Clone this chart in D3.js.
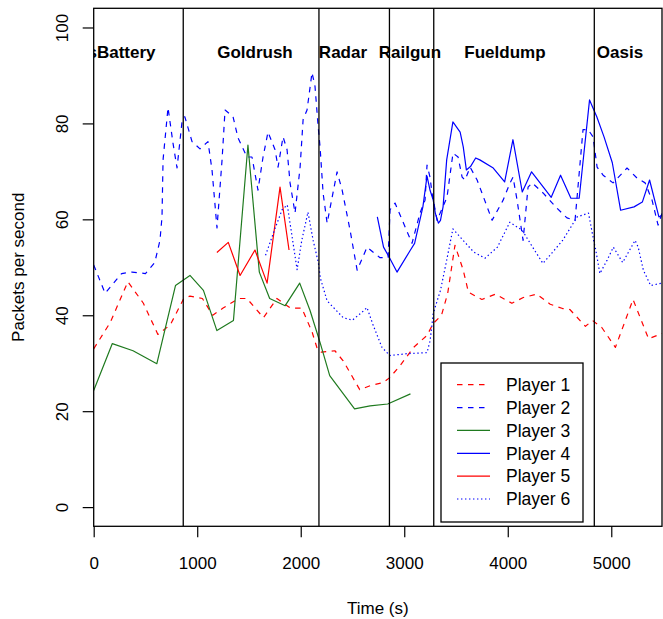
<!DOCTYPE html>
<html>
<head>
<meta charset="utf-8">
<script src="https://cdn.jsdelivr.net/npm/d3@7"></script>
<style>
  html, body { margin: 0; padding: 0; background: #fff; }
  svg { display: block; font-family: "Liberation Sans", Arial, Helvetica, sans-serif; }
</style>
</head>
<body>
<svg id="chart" width="663" height="619"></svg>
<script>
// Packets per second for each player, [time (s), packets/s]
const player1 = [[0,33],[160,38.5],[330,47],[480,42.5],[620,36],[740,38],[870,43.5],[930,44],[1050,43.5],[1150,40],[1250,41.5],[1400,43.5],[1480,43.5],[1640,39.5],[1770,43.5],[1900,41.5],[2010,41.5],[2110,36.5],[2160,33],[2200,32.3],[2330,32.6],[2410,30.5],[2570,24.5],[2670,25.3],[2800,26],[2860,27],[2960,29.5],[3090,33.3],[3220,35.8],[3280,38.3],[3360,40],[3420,44.6],[3490,54.6],[3570,49.4],[3620,44.8],[3750,43.3],[3880,44.4],[4040,42.5],[4150,43.7],[4280,44.4],[4410,42.3],[4530,41.4],[4600,41.2],[4750,37.7],[4820,38.9],[4910,37.4],[5040,33.3],[5210,43.3],[5360,35.1],[5490,36.2]];
const player2 = [[0,50.5],[110,44.6],[270,48.7],[370,49],[500,48.7],[590,51],[640,55.6],[660,60.5],[670,72.4],[718,83.3],[766,75.9],[805,70.7],[853,80.3],[880,81.4],[950,76.2],[1027,74.7],[1104,76.2],[1143,70.3],[1191,58.2],[1240,72.4],[1269,82.8],[1346,81.4],[1394,77],[1481,73],[1529,73],[1587,66.1],[1636,73],[1684,78.2],[1752,74.5],[1781,70.9],[1829,77.2],[1868,74.5],[1897,67.6],[1945,61.3],[1994,70.9],[2023,80.8],[2061,82.8],[2109,90.6],[2138,87.7],[2167,79.7],[2187,75],[2216,65.5],[2255,59.2],[2351,69.9],[2400,66.1],[2477,57.7],[2545,49.4],[2641,54.2],[2766,52],[2844,52],[2863,62],[2911,63.4],[3075,55],[3152,61.3],[3201,64],[3220,71.3],[3249,68.8],[3268,65.5],[3317,59.8],[3413,64.6],[3471,73.8],[3520,73],[3559,68.8],[3588,68.2],[3636,70.9],[3704,68.2],[3849,59.8],[3955,64],[4022,67.6],[4051,68.8],[4090,64],[4148,55.6],[4196,66.7],[4235,67.6],[4341,65.5],[4476,62.3],[4572,60.3],[4650,59.8],[4727,78.7],[4776,78.7],[4824,77.2],[4863,70.9],[4921,69.2],[5017,67.6],[5152,70.7],[5249,68.6],[5327,67.6],[5394,64],[5452,58.8],[5491,61.3]];
const player3 = [[0,24.3],[180,34.1],[380,32.6],[610,29.9],[790,46.2],[930,48.3],[1060,45.2],[1190,36.8],[1350,38.9],[1490,75.5],[1600,49],[1700,43.5],[1850,42],[1990,46.7],[2090,41],[2190,34.1],[2280,27.4],[2520,20.5],[2670,21.1],[2840,21.5],[3060,23.6]];
const player4 = [[2740,60.5],[2800,54.2],[2860,51.9],[2930,49],[3060,53.6],[3100,55],[3180,62.6],[3220,69],[3250,66],[3280,64],[3300,61.3],[3330,59.2],[3350,59.8],[3375,62.6],[3410,72.4],[3470,80.3],[3540,78.2],[3570,75.1],[3600,70.3],[3640,71],[3690,72.8],[3730,72.4],[3860,70.7],[3970,67.8],[4050,76.6],[4140,65.7],[4230,69.9],[4420,64.6],[4510,69.2],[4610,64.4],[4690,64.4],[4790,84.9],[4860,81.4],[4930,77.2],[5010,71.8],[5090,61.9],[5220,62.6],[5300,63.6],[5370,68.2],[5460,60.5],[5530,61.3]];
const player5 = [[1190,53.1],[1300,55.2],[1414,48.3],[1558,53.6],[1675,46.7],[1800,66.7],[1887,53.6]];
const player6 = [[1660,52.5],[1750,58],[1820,62],[1870,63],[1965,49.5],[2010,55.6],[2070,61.5],[2120,55.6],[2170,51],[2190,47.7],[2255,43],[2410,39.5],[2500,39],[2590,40.6],[2640,41.6],[2700,37.9],[2785,33.3],[2860,31.6],[3030,32],[3220,32.2],[3250,34.7],[3280,40.4],[3350,45.2],[3410,51.5],[3470,58],[3570,55.6],[3670,53.2],[3780,51.9],[3900,54.2],[4020,59.4],[4140,57.7],[4240,54.2],[4340,50.8],[4530,55.6],[4670,60.5],[4780,61.3],[4830,55.6],[4850,53.6],[4890,48.7],[4960,51.5],[5020,54.2],[5110,51],[5230,55.6],[5260,54.2],[5310,49.4],[5380,46.2],[5490,46.7]];

const seriesNames = ["Player 1", "Player 2", "Player 3", "Player 4", "Player 5", "Player 6"];
const seriesData = [player1, player2, player3, player4, player5, player6];

// Map changes (s) and the map names written across the top
const mapChangeTimes = [865, 2176, 2857, 3285, 4836];
const mapNames = ["sBattery", "Goldrush", "Radar", "Railgun", "Fueldump", "Oasis"];
const mapLabelTimes = [269, 1558, 2408, 3055, 3973, 5084];

const xTicks = [0, 1000, 2000, 3000, 4000, 5000];
const yTicks = [0, 20, 40, 60, 80, 100];

// Line appearance per player
const colors = ["#ff0000", "#0000ff", "#1f7a1f", "#0000ff", "#ff0000", "#0000ff"];
const dashes = ["5.5,5.5", "5.5,5.5", null, null, null, "1.4,2.6"];

const svg = d3.select("#chart");
const plot = { left: 93.7, right: 662, top: 8.3, bottom: 526.3 };

const x = d3.scaleLinear().domain([0, 5490]).range([plot.left, plot.right]);
const y = d3.scaleLinear().domain([-4, 104]).range([plot.bottom, plot.top]);

svg.append("defs").append("clipPath").attr("id", "plotClip")
  .append("rect")
  .attr("x", plot.left).attr("y", plot.top)
  .attr("width", plot.right - plot.left).attr("height", plot.bottom - plot.top);

const inner = svg.append("g").attr("clip-path", "url(#plotClip)");

// Series lines
const line = d3.line().x(d => x(d[0])).y(d => y(d[1]));
seriesData.forEach((data, i) => {
  inner.append("path")
    .datum(data)
    .attr("d", line)
    .attr("fill", "none")
    .attr("stroke", colors[i])
    .attr("stroke-width", 1.2)
    .attr("stroke-dasharray", dashes[i])
    .attr("stroke-linejoin", "round");
});

// Map boundaries
inner.selectAll("line.map").data(mapChangeTimes).join("line")
  .attr("class", "map")
  .attr("x1", d => x(d)).attr("x2", d => x(d))
  .attr("y1", plot.top).attr("y2", plot.bottom)
  .attr("stroke", "#000").attr("stroke-width", 1.3);

// Map names
inner.selectAll("text.map").data(mapNames).join("text")
  .attr("class", "map")
  .attr("x", (d, i) => x(mapLabelTimes[i]))
  .attr("y", 58)
  .attr("text-anchor", "middle")
  .attr("font-size", 17)
  .attr("font-weight", "bold")
  .attr("fill", "#000")
  .text(d => d);

// Frame
svg.append("rect")
  .attr("x", plot.left).attr("y", plot.top)
  .attr("width", plot.right - plot.left).attr("height", plot.bottom - plot.top)
  .attr("fill", "none").attr("stroke", "#000").attr("stroke-width", 1.3);

// X axis
const xAxis = svg.append("g")
  .attr("transform", `translate(0,${plot.bottom})`)
  .call(d3.axisBottom(x).tickValues(xTicks).tickSize(11).tickFormat(""));
xAxis.select(".domain").remove();
xAxis.selectAll(".tick line").attr("stroke", "#000").attr("stroke-width", 1.2);
xAxis.selectAll(".tick").append("text")
  .attr("y", 569 - plot.bottom)
  .attr("text-anchor", "middle")
  .attr("font-size", 17)
  .attr("fill", "#000")
  .text(d => d);

// Y axis
const yAxis = svg.append("g")
  .attr("transform", `translate(${plot.left},0)`)
  .call(d3.axisLeft(y).tickValues(yTicks).tickSize(11).tickFormat(""));
yAxis.select(".domain").remove();
yAxis.selectAll(".tick line").attr("stroke", "#000").attr("stroke-width", 1.2);
yAxis.selectAll(".tick").append("text")
  .attr("transform", "translate(-25.5,0) rotate(-90)")
  .attr("text-anchor", "middle")
  .attr("font-size", 17)
  .attr("fill", "#000")
  .text(d => d);

// Axis titles
svg.append("text")
  .attr("x", (plot.left + plot.right) / 2).attr("y", 614)
  .attr("text-anchor", "middle").attr("font-size", 17).attr("fill", "#000")
  .text("Time (s)");
svg.append("text")
  .attr("transform", `translate(24,${(plot.top + plot.bottom) / 2}) rotate(-90)`)
  .attr("text-anchor", "middle").attr("font-size", 17).attr("fill", "#000")
  .text("Packets per second");

// Legend
const legend = svg.append("g");
legend.append("rect")
  .attr("x", 441).attr("y", 363).attr("width", 142).attr("height", 159)
  .attr("fill", "#fff").attr("stroke", "#000").attr("stroke-width", 1.3);
const rowY = d3.scalePoint().domain(seriesNames).range([384.7, 499]);
seriesNames.forEach((name, i) => {
  const yy = rowY(name);
  legend.append("line")
    .attr("x1", 457).attr("x2", 490).attr("y1", yy).attr("y2", yy)
    .attr("stroke", colors[i]).attr("stroke-width", 1.2)
    .attr("stroke-dasharray", dashes[i]);
  legend.append("text")
    .attr("x", 506).attr("y", yy + 6.3)
    .attr("font-size", 17.5).attr("fill", "#000")
    .text(name);
});
</script>
</body>
</html>
